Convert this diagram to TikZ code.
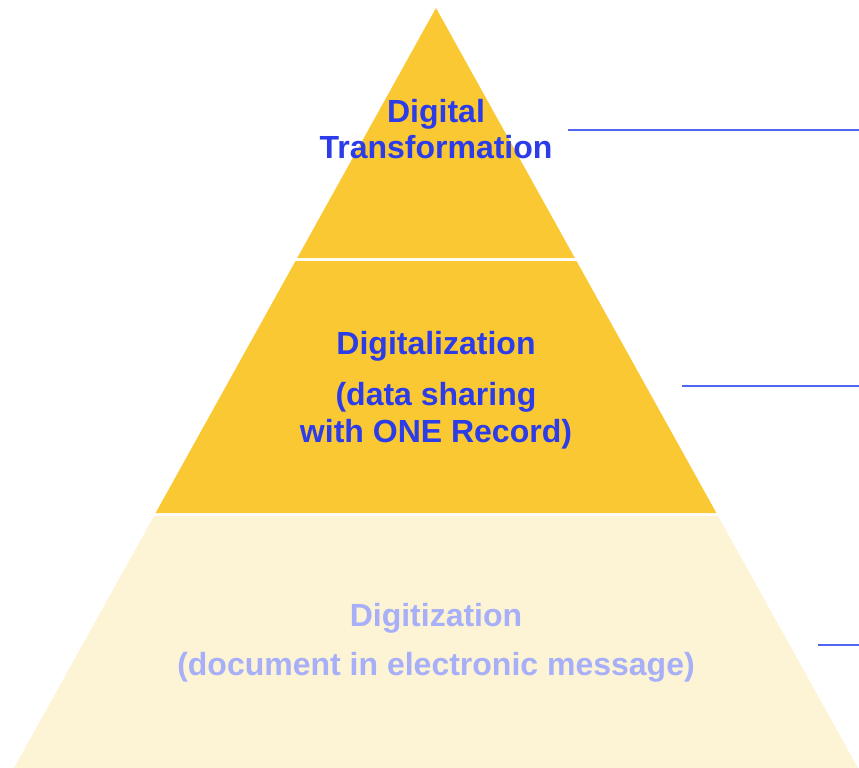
\documentclass[tikz,border=0pt]{standalone}
\usepackage{fontspec}
\setmainfont{Liberation Sans}
\usepackage{tikz}
\definecolor{gold}{HTML}{F9C832}
\definecolor{cream}{HTML}{FDF3D5}
\definecolor{inkblue}{HTML}{2B3CE8}
\definecolor{paleblue}{HTML}{A6AFF7}
\definecolor{leadblue}{HTML}{5166F0}

\begin{document}
\begin{tikzpicture}[
x = 1pt, y = -1pt,
layertxt/.style={anchor = base, inner sep = 0pt, font = \fontsize{32}{37}\selectfont\bfseries, text = inkblue},
paletxt/.style={layertxt, text = paleblue},
leadline/.style={draw = leadblue, line width = 1.6pt}]

\useasboundingbox (0,0) rectangle (859,768);

% pyramid layers
\fill[gold] (436,8) -- (574.8,258) -- (297.2,258) -- cycle;
\fill[gold] (295.5,261) -- (576.5,261) -- (716.4,513) -- (155.6,513) -- cycle;
\fill[cream] (154,516) -- (718,516) -- (858,768) -- (14,768) -- cycle;

% texts
\node[layertxt] (DT1) at (436,122) {Digital};
\node[layertxt] (DT2) at (436,158) {Transformation};
\node[layertxt] (DL1) at (436,354) {Digitalization};
\node[layertxt] (DL2) at (436,405) {(data sharing};
\node[layertxt] (DL3) at (436,442) {with ONE Record)};
\node[paletxt] (DZ1) at (436,626) {Digitization};
\node[paletxt] (DZ2) at (436,675) {(document in electronic message)};

% leader lines
\coordinate (L1a) at (568,130);  \coordinate (L1b) at (859,130);
\coordinate (L2a) at (682,386);  \coordinate (L2b) at (859,386);
\coordinate (L3a) at (818,645);  \coordinate (L3b) at (859,645);
\draw[leadline] (L1a) -- (L1b);
\draw[leadline] (L2a) -- (L2b);
\draw[leadline] (L3a) -- (L3b);

\end{tikzpicture}
\end{document}
